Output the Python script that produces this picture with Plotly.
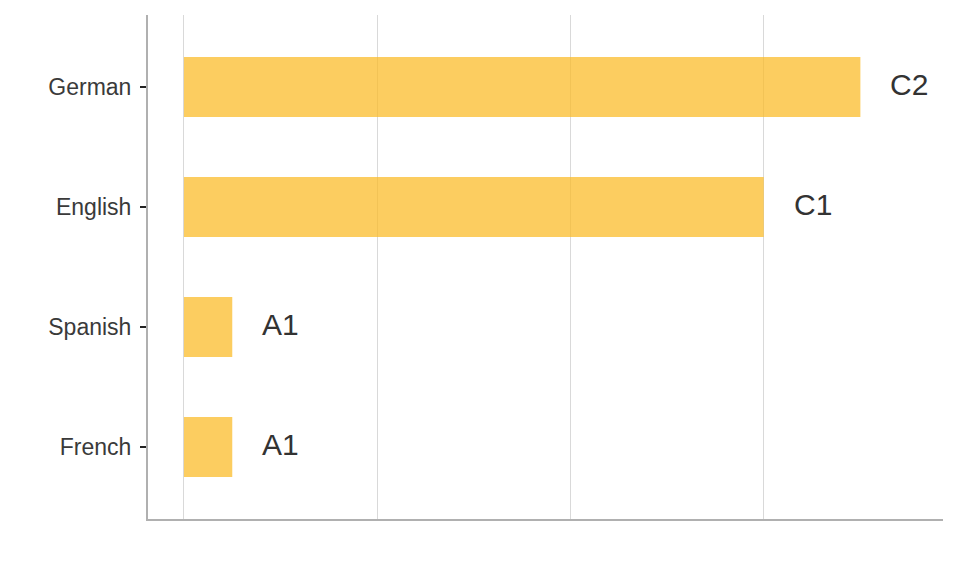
import plotly.graph_objects as go

languages = ["French", "Spanish", "English", "German"]
level_values = [0.5, 0.5, 6, 7]
level_labels = ["A1", "A1", "C1", "C2"]
grid_ticks = [0, 2, 4, 6]

bar_color = "rgba(251,188,40,0.74)"

fig = go.Figure()
fig.add_trace(go.Bar(
    x=level_values, y=languages, orientation="h",
    marker=dict(color=bar_color, line=dict(width=0)),
    width=0.5, hoverinfo="skip",
))
for lang, val, lab in zip(languages, level_values, level_labels):
    fig.add_annotation(x=val, y=lang, text=lab, showarrow=False,
                       xanchor="left", yanchor="middle", xshift=28, yshift=3,
                       font=dict(family="Liberation Sans, Arial", size=30, color="#333333"))

fig.update_layout(
    width=952, height=568,
    margin=dict(l=140, r=17, t=7, b=57),
    paper_bgcolor="white", plot_bgcolor="white",
    showlegend=False,
    font=dict(family="Liberation Sans, Arial", color="#444444"),
    xaxis=dict(range=[-0.372, 7.855], tickvals=grid_ticks, showticklabels=False,
               showgrid=True, gridcolor="#d9d9d9", gridwidth=1, zeroline=False,
               showline=True, linecolor="#b0b0b0", linewidth=2, ticks=""),
    yaxis=dict(range=[-0.6, 3.6], categoryorder="array", categoryarray=languages,
               showgrid=False, zeroline=False, showline=True, linecolor="#b0b0b0",
               linewidth=2, ticks="outside", ticklen=6, tickwidth=2, tickcolor="#222222",
               tickfont=dict(size=23, color="#3a3a3a"), ticklabelstandoff=4),
)
fig.write_html("out.html")
